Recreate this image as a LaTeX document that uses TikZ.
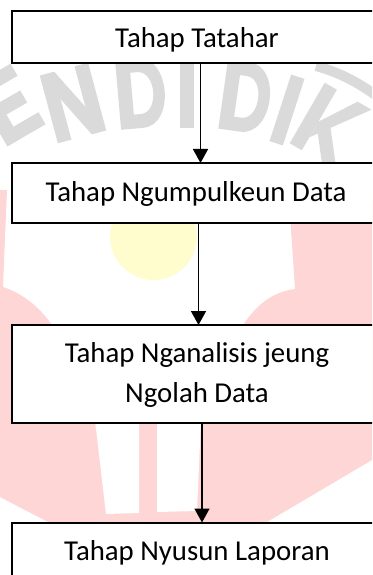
\documentclass[tikz,border=0pt]{standalone}
\usepackage{fontspec}
\setmainfont{Carlito}
\usetikzlibrary{arrows.meta}
\definecolor{wmpink}{RGB}{255,214,214}
\definecolor{wmyellow}{RGB}{255,252,206}
\definecolor{wmgray}{RGB}{218,218,218}
\begin{document}
\begin{tikzpicture}[x=1bp,y=-1bp,
  box/.style={rectangle, draw=black, line width=2bp, fill=white, minimum width=370bp, inner sep=0pt, outer sep=0pt},
  lbl/.style={font=\fontsize{28.8bp}{40bp}\selectfont, inner sep=0pt, anchor=base, text=black},
  arr/.style={line width=1.5bp, -{Triangle[width=15bp,length=14bp]}},
  wm/.style={fill=wmgray, draw=none}]

\useasboundingbox (0,0) rectangle (372,575);
\clip (0,0) rectangle (372,575);

% watermark: pink shapes
\fill[wmpink] (0,190) -- (7,190) -- (3,287) .. controls (22,293) and (42,308) .. (55,330)
  -- (240,330) .. controls (255,305) and (272,292) .. (295,289) -- (289,200) -- (372,200)
  -- (372,460) -- (267,522) -- (48,522) -- (0,497) -- cycle;
\fill[white] (95,420) -- (139,420) -- (139,513) -- (106,514) -- cycle;
\fill[white] (157,420) -- (201,420) -- (197,511) -- (157,512) -- cycle;
% watermark: yellow circle
\fill[wmyellow] (153.5,236.5) circle[radius=43.5bp];
% watermark: grey letters and ring
\begin{scope}[shift={(9,105)},rotate=30]
  \fill[wm] (-22,-35) rectangle (-7,35);
  \fill[wm] (-22,-35) rectangle (22,-21);
  \fill[wm] (-22,-7) rectangle (17,7);
  \fill[wm] (-22,21) rectangle (22,35);
\end{scope}
\begin{scope}[shift={(73,103)},rotate=15]
  \fill[wm] (-25,-35) rectangle (-11,35);
  \fill[wm] (11,-35) rectangle (25,35);
  \fill[wm] (-25,-35) -- (-10,-35) -- (25,35) -- (10,35) -- cycle;
\end{scope}
\begin{scope}[shift={(140,93)},rotate=5]
  \fill[wm,even odd rule] (-22,-35) -- (0,-35) .. controls (33,-35) and (33,35) .. (0,35) -- (-22,35) -- cycle
    (-8,-21) -- (-1,-21) .. controls (18,-21) and (18,21) .. (-1,21) -- (-8,21) -- cycle;
\end{scope}
\begin{scope}[shift={(187,93)},rotate=0]
  \fill[wm] (-7,-35) rectangle (7,35);
\end{scope}
\begin{scope}[shift={(245,97)},rotate=-8]
  \fill[wm,even odd rule] (-22,-35) -- (0,-35) .. controls (33,-35) and (33,35) .. (0,35) -- (-22,35) -- cycle
    (-8,-21) -- (-1,-21) .. controls (18,-21) and (18,21) .. (-1,21) -- (-8,21) -- cycle;
\end{scope}
\begin{scope}[shift={(287,110)},rotate=-18]
  \fill[wm] (-7,-35) rectangle (7,35);
\end{scope}
\begin{scope}[shift={(328,125)},rotate=-30]
  \fill[wm] (-24,-35) rectangle (-10,35);
  \fill[wm] (-10,2) -- (14,-35) -- (30,-35) -- (-10,20) -- cycle;
  \fill[wm] (-2,-6) -- (30,35) -- (13,35) -- (-12,3) -- cycle;
\end{scope}
\draw[wmgray, line width=10bp] (316,66) .. controls (338,72) and (358,82) .. (378,97);

% flowchart boxes
\node[box, minimum height=52bp]   (b1) at (197,37) {};
\node[box, minimum height=59.5bp] (b2) at (197,192.75) {};
\node[box, minimum height=98bp]   (b3) at (197,374) {};
\node[box, minimum height=61.5bp] (b4) at (197,553.25) {};

% labels
\node[lbl] (t1)  at (197,47.7)  {Tahap Tatahar};
\node[lbl] (t2)  at (196,201.5) {Tahap Ngumpulkeun Data};
\node[lbl] (t3a) at (197,362.3) {Tahap Nganalisis jeung};
\node[lbl] (t3b) at (197,402.3) {Ngolah Data};
\node[lbl] (t4)  at (197,560)   {Tahap Nyusun Laporan};

% connectors
\draw[arr] ([xshift=3.5bp]b1.south) -- ([xshift=3.5bp]b2.north);
\draw[arr] ([xshift=1.5bp]b2.south) -- ([xshift=1.5bp]b3.north);
\draw[arr] ([xshift=5bp]b3.south) -- ([xshift=5bp]b4.north);
\end{tikzpicture}
\end{document}
